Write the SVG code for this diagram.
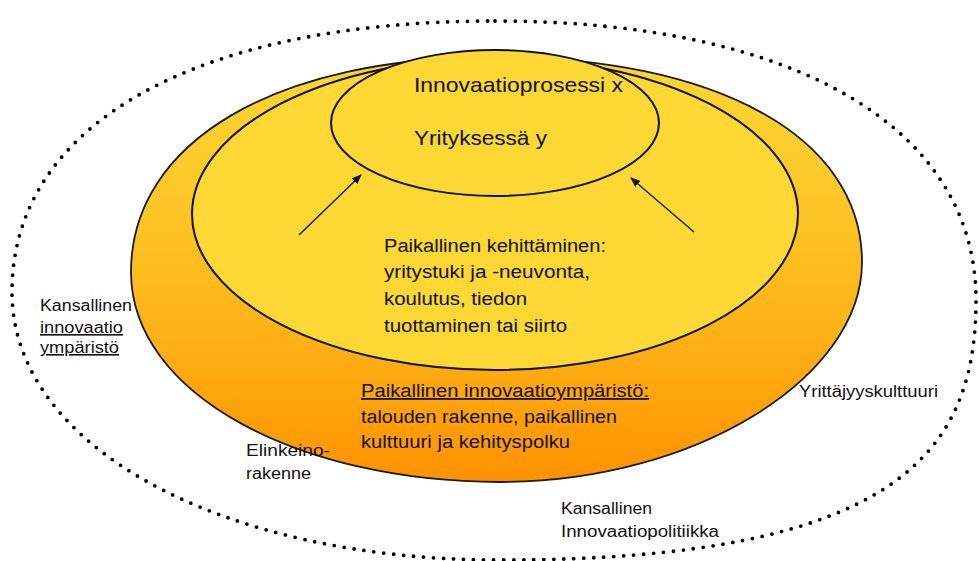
<svg xmlns="http://www.w3.org/2000/svg" width="979" height="561" viewBox="0 0 979 561">
<defs>
<linearGradient id="og" gradientUnits="userSpaceOnUse" x1="0" y1="57" x2="0" y2="482">
<stop offset="0" stop-color="#FDD632"/>
<stop offset="0.35" stop-color="#FCC726"/>
<stop offset="0.7" stop-color="#FDAE14"/>
<stop offset="1" stop-color="#FF9200"/>
</linearGradient>
<marker id="ah" markerWidth="10" markerHeight="8" refX="9" refY="4" orient="auto" markerUnits="userSpaceOnUse">
<path d="M0,0 L10,4 L0,8 Z" fill="#111"/>
</marker>
<style>
.t{font-family:"Liberation Sans",Arial,Helvetica,sans-serif;fill:#111}
.big{font-size:21px}
.mid{font-size:18px}
.sm{font-size:16px}
.ul{text-decoration:underline}
.dot{fill:none;stroke:#000;stroke-width:3.8;stroke-linecap:round;stroke-dasharray:0 10}
.edge{stroke:#111;stroke-width:2}
.conn{stroke:#111;stroke-width:1.3;fill:none}
</style>
</defs>

<g id="node-kansallinen-ymparisto">
<path class="dot" d="M495,21 C794,21 976,127 976,300 C976,450 900,560 500,560 C220,560 12,446 12,292 C12,124 196,21 495,21 Z"/>
</g>

<g id="node-paikallinen-innovaatioymparisto">
<path d="M131,272 C131,141 277,57 495,57 C713,57 862,135 862,262 C862,378 695,482 500,482 C300,482 131,395 131,272 Z" fill="url(#og)" stroke="#1a1a1a" stroke-width="1.8"/>
<text class="t mid ul" x="361" y="397" textLength="288" lengthAdjust="spacingAndGlyphs">Paikallinen innovaatioympäristö:</text>
<text class="t mid" x="361" y="423" textLength="256" lengthAdjust="spacingAndGlyphs">talouden rakenne, paikallinen</text>
<text class="t mid" x="361" y="448" textLength="209" lengthAdjust="spacingAndGlyphs">kulttuuri ja kehityspolku</text>
</g>

<g id="node-paikallinen-kehittaminen">
<ellipse class="edge" cx="495" cy="214" rx="303" ry="156" fill="#FDD733"/>
<text class="t mid" x="384" y="252" textLength="222" lengthAdjust="spacingAndGlyphs">Paikallinen kehittäminen:</text>
<text class="t mid" x="384" y="278" textLength="206" lengthAdjust="spacingAndGlyphs">yritystuki ja -neuvonta,</text>
<text class="t mid" x="384" y="305" textLength="143" lengthAdjust="spacingAndGlyphs">koulutus, tiedon</text>
<text class="t mid" x="384" y="332" textLength="183" lengthAdjust="spacingAndGlyphs">tuottaminen tai siirto</text>
</g>

<g id="node-innovaatioprosessi">
<ellipse class="edge" cx="495" cy="123" rx="164" ry="73" fill="#FDD733"/>
<text class="t big" x="414" y="92" textLength="209" lengthAdjust="spacingAndGlyphs">Innovaatioprosessi x</text>
<text class="t big" x="414" y="145" textLength="133" lengthAdjust="spacingAndGlyphs">Yrityksessä y</text>
</g>

<g id="connectors">
<line class="conn" x1="299" y1="235" x2="361" y2="175" marker-end="url(#ah)"/>
<line class="conn" x1="694" y1="232" x2="631" y2="178" marker-end="url(#ah)"/>
</g>

<g id="labels-outer">
<text class="t sm" x="40" y="311" textLength="92" lengthAdjust="spacingAndGlyphs">Kansallinen</text>
<text class="t sm ul" x="40" y="333" textLength="83" lengthAdjust="spacingAndGlyphs">innovaatio</text>
<text class="t sm ul" x="40" y="353" textLength="79" lengthAdjust="spacingAndGlyphs">ympäristö</text>
<text class="t sm" x="799" y="397" textLength="139" lengthAdjust="spacingAndGlyphs">Yrittäjyyskulttuuri</text>
<text class="t sm" x="246" y="456" textLength="84" lengthAdjust="spacingAndGlyphs">Elinkeino-</text>
<text class="t sm" x="246" y="479" textLength="65" lengthAdjust="spacingAndGlyphs">rakenne</text>
<text class="t sm" x="561" y="514" textLength="91" lengthAdjust="spacingAndGlyphs">Kansallinen</text>
<text class="t sm" x="561" y="537" textLength="158" lengthAdjust="spacingAndGlyphs">Innovaatiopolitiikka</text>
</g>
</svg>
